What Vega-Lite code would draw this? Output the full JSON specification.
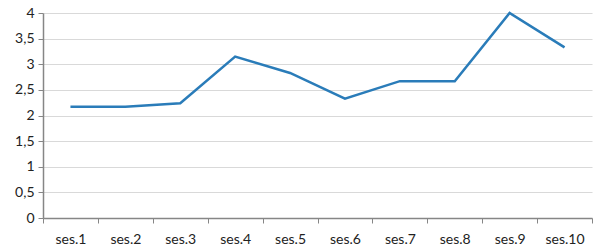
{
  "$schema": "https://vega.github.io/schema/vega-lite/v6.json",
  "width": 549,
  "height": 205,
  "autosize": {"type": "none"},
  "padding": {"left": 43, "top": 13, "right": 3, "bottom": 34},
  "data": {
    "values": [
      {"session": "ses.1", "value": 2.17},
      {"session": "ses.2", "value": 2.17},
      {"session": "ses.3", "value": 2.24},
      {"session": "ses.4", "value": 3.15},
      {"session": "ses.5", "value": 2.83},
      {"session": "ses.6", "value": 2.33},
      {"session": "ses.7", "value": 2.67},
      {"session": "ses.8", "value": 2.67},
      {"session": "ses.9", "value": 4.0},
      {"session": "ses.10", "value": 3.33}
    ]
  },
  "config": {
    "view": {"stroke": null},
    "font": "Lato",
    "axis": {
      "labelFont": "Lato",
      "labelFontSize": 14,
      "labelColor": "#222222",
      "domainColor": "#868686",
      "tickColor": "#868686",
      "gridColor": "#d9d9d9",
      "domainWidth": 1.5,
      "tickWidth": 1
    }
  },
  "mark": {"type": "line", "color": "#2a7cb9", "strokeWidth": 2.5},
  "encoding": {
    "x": {
      "field": "session",
      "type": "nominal",
      "sort": null,
      "bandPosition": 0.5,
      "scale": {"type": "band", "paddingInner": 0, "paddingOuter": 0},
      "axis": {
        "title": null,
        "labelAngle": 0,
        "grid": false,
        "tickBand": "extent",
        "tickSize": 5,
        "labelPadding": 9
      }
    },
    "y": {
      "field": "value",
      "type": "quantitative",
      "scale": {"domain": [0, 4], "nice": false},
      "axis": {
        "title": null,
        "values": [0, 0.5, 1, 1.5, 2, 2.5, 3, 3.5, 4],
        "format": ".1~f",
        "labelExpr": "replace(datum.label, '.', ',')",
        "tickSize": 5,
        "labelPadding": 4,
        "grid": true
      }
    }
  }
}
